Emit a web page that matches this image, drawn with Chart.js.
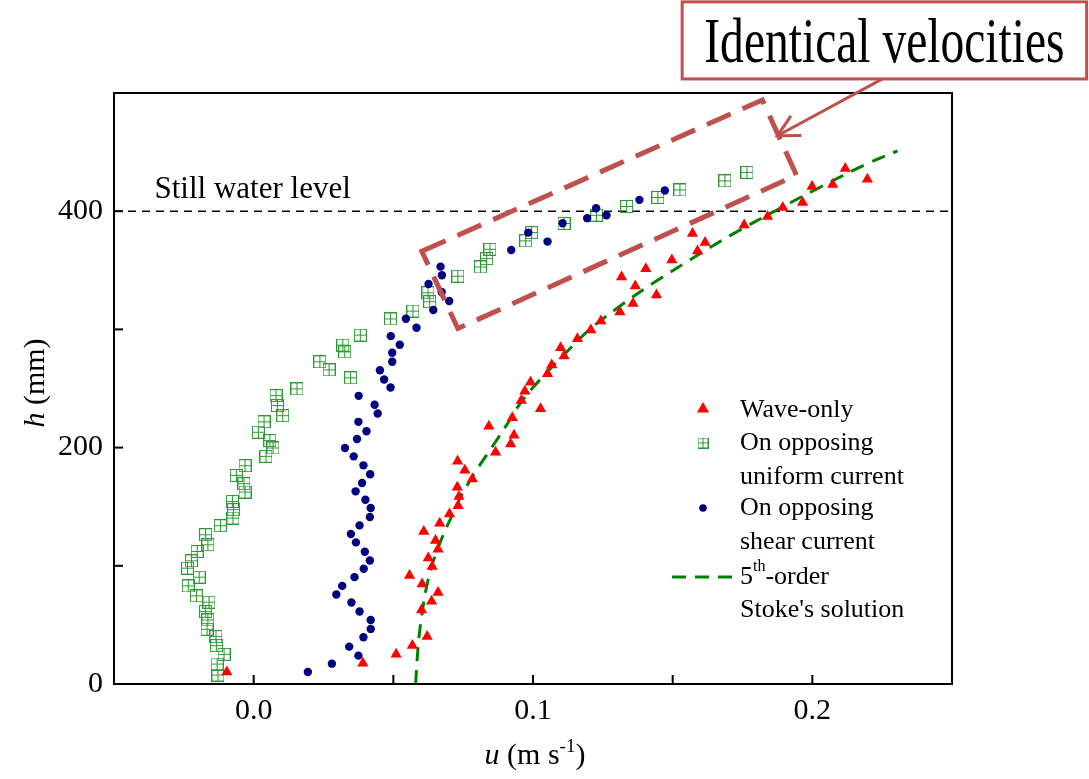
<!DOCTYPE html>
<html><head><meta charset="utf-8">
<script src="https://cdn.jsdelivr.net/npm/chart.js@4/dist/chart.umd.min.js"></script>
<style>html,body{margin:0;padding:0;background:#fff}</style>
</head><body>
<canvas id="c" width="1089" height="779"></canvas>
<script>
// ---- Data (u in m/s, h in mm) ----
const waveH = [10.2,17.5,25.1,32.5,40.1,62.7,70,77.4,84.7,91.8,99.4,106.5,114.1,121.4,129,136.1,143.8,150.8,158.7,166.4,173.5,180.8,188.4,196,203.1,210.4,218,225.2,232.8,239.8,247.7,255.3,262.5,269.8,277.4,284.5,292.1,299.4,307.1,314.7,322,329.1,336.7,344.3,351.4,358.7,366.4,373.5,381.1,388.4,395.5,403.1,407.3,420.9,422.6,436.2,427];
const waveU = [-0.0096,0.0391,0.051,0.0568,0.0621,0.0601,0.0637,0.066,0.0603,0.0558,0.0639,0.0625,0.066,0.0651,0.0609,0.0666,0.0701,0.0732,0.0735,0.0729,0.0783,0.0756,0.073,0.0866,0.092,0.0932,0.0842,0.0926,0.1027,0.0958,0.0971,0.0991,0.1052,0.1067,0.1111,0.1099,0.1159,0.1207,0.1243,0.1311,0.1358,0.1442,0.1366,0.1317,0.1404,0.1497,0.1589,0.1616,0.1571,0.1756,0.184,0.1894,0.1965,0.1999,0.2073,0.2118,0.2197];

const uniformH = [7.6,16.9,25.1,32.5,40.1,46.3,54.2,61.3,69.2,74.6,83,90.4,98,104.2,112.1,117.8,126.3,133.9,140.4,147.5,154.5,162.4,169.5,176.5,184.7,192.6,199.7,206,213,221.8,227,235.6,244,249.7,259,265.8,272.6,281,286.7,295.2,308.9,315.5,323.4,331,345,352.8,359.9,367.8,374.9,381.9,389.6,396.6,404,411.6,418,425.7,432.8];
const uniformU = [-0.0128,-0.0131,-0.0106,-0.0133,-0.0135,-0.0167,-0.0164,-0.0172,-0.016,-0.0205,-0.0234,-0.0195,-0.0237,-0.0223,-0.0202,-0.0164,-0.0172,-0.0119,-0.0074,-0.0072,-0.0076,-0.0031,-0.0035,-0.0062,-0.0031,0.0044,0.0069,0.0058,0.0017,0.0037,0.0104,0.0085,0.008,0.0155,0.0347,0.027,0.0237,0.0326,0.0319,0.0382,0.049,0.057,0.063,0.0624,0.0731,0.0812,0.0834,0.0846,0.0974,0.0995,0.1111,0.1227,0.1335,0.1447,0.1526,0.1687,0.1766];

const shearH = [10.2,17.2,24,31.6,39.5,46.6,54.2,61.3,68.9,75.7,83,90.4,97.5,104.5,111.9,119.8,126.9,134.2,141.3,148.9,155.9,163,170.1,177.4,185,192.6,199.7,207.3,213.8,221.8,228.8,236.2,243.8,250.8,257.6,265.5,272.6,280.2,287,294.3,301.4,309,316.4,324,331.6,338.4,345.8,353.1,367.2,374.3,381.9,389.8,394.1,396.6,402.5,409.6,417.5];
const shearU = [0.0194,0.028,0.0375,0.0342,0.0393,0.0419,0.0419,0.0379,0.035,0.0296,0.0317,0.0361,0.0394,0.0416,0.0398,0.0366,0.0348,0.0379,0.0416,0.0419,0.04,0.0365,0.0388,0.0417,0.0393,0.0358,0.0327,0.037,0.0404,0.0375,0.0444,0.0433,0.0376,0.049,0.0467,0.0452,0.0496,0.0496,0.0523,0.0491,0.0583,0.0545,0.0643,0.07,0.0673,0.0626,0.0674,0.0669,0.0922,0.1052,0.0983,0.1106,0.1194,0.1263,0.1226,0.1381,0.1472];

const stokesH = [0,20,40,60,80,100,120,140,160,180,200,220,240,260,280,300,320,340,360,380,400,420,440,451];
const stokesU = [0.058,0.0585,0.0592,0.0603,0.0617,0.0638,0.0668,0.0705,0.0745,0.0795,0.0852,0.0908,0.0962,0.1035,0.1117,0.1203,0.1313,0.1436,0.157,0.171,0.1865,0.2025,0.2195,0.2305];

const xTickValues = [-0.05,0,0.05,0.1,0.15,0.2,0.25];
const xTickLabels = ['', '0.0', '', '0.1', '', '0.2', ''];
const yTickValues = [0,100,200,300,400,500];
const yTickLabels = ['0','','200','','400',''];

const legendLabels = [['Wave-only'],['On opposing','uniform current'],['On opposing','shear current'],['5|th|-order',"Stoke's solution"]];
const stillWaterLevel = 400;
const calloutText = 'Identical velocities';

// annotation geometry in data units
const boxCorners = [[0.0602,366.1],[0.1821,494.1],[0.1943,430.5],[0.0731,300.8]];
const calloutRect = [0.1534,577.1,0.2982,511.9];
const arrowFrom = [0.2251,511.9], arrowTo = [0.1875,463.8];

const SERIF = '"Liberation Serif","DejaVu Serif",serif';
const RED = '#ff0000', GREEN_PT = '#2f9a35', NAVY = '#000080', GREEN_LINE = '#008000', ANNO = '#c0504d';

function zip(us, hs){ return us.map((u,i)=>({x:u,y:hs[i]})); }

function makeSquare(size, color){
  const c=document.createElement('canvas'); c.width=size; c.height=size;
  const g=c.getContext('2d'); g.strokeStyle=color; g.lineWidth=1.1;
  g.strokeRect(0.5,0.5,size-1,size-1);
  g.beginPath(); g.moveTo(size/2,1); g.lineTo(size/2,size-1); g.moveTo(1,size/2); g.lineTo(size-1,size/2); g.stroke();
  return c;
}
const sqImg = makeSquare(13, GREEN_PT);
const sqSmall = makeSquare(11, GREEN_PT);

const deco = {
  id:'deco',
  beforeDatasetsDraw(chart){
    const {ctx, chartArea:a, scales:{x,y}} = chart;
    ctx.save();
    ctx.strokeStyle='#000'; ctx.lineWidth=1.5; ctx.setLineDash([8,6]);
    const yy = y.getPixelForValue(stillWaterLevel);
    ctx.beginPath(); ctx.moveTo(a.left, yy); ctx.lineTo(a.right, yy); ctx.stroke();
    ctx.setLineDash([]);
    ctx.fillStyle='#000'; ctx.font='31px '+SERIF; ctx.textBaseline='alphabetic';
    ctx.fillText('Still water level', x.getPixelForValue(-0.0355), yy-13);
    ctx.restore();
  },
  afterDatasetsDraw(chart){
    const {ctx, chartArea:a, scales:{x,y}} = chart;
    const P = (p)=>[x.getPixelForValue(p[0]), y.getPixelForValue(p[1])];
    ctx.save();
    // frame
    ctx.strokeStyle='#000'; ctx.lineWidth=2; ctx.setLineDash([]);
    ctx.strokeRect(a.left, a.top, a.right-a.left, a.bottom-a.top);
    // inward ticks
    xTickValues.forEach(v=>{ const px=x.getPixelForValue(v); ctx.beginPath(); ctx.moveTo(px,a.bottom); ctx.lineTo(px,a.bottom-9); ctx.stroke(); });
    yTickValues.forEach(v=>{ const py=y.getPixelForValue(v); ctx.beginPath(); ctx.moveTo(a.left,py); ctx.lineTo(a.left+9,py); ctx.stroke(); });

    // dashed annotation box
    ctx.strokeStyle=ANNO; ctx.lineWidth=5; ctx.setLineDash([26,13]); ctx.lineCap='butt';
    ctx.beginPath();
    boxCorners.forEach((c,i)=>{ const [px,py]=P(c); if(i===0) ctx.moveTo(px,py); else ctx.lineTo(px,py); });
    ctx.closePath(); ctx.stroke();
    ctx.setLineDash([]);

    // callout
    const [l,t] = P([calloutRect[0],calloutRect[1]]);
    const [r,b] = P([calloutRect[2],calloutRect[3]]);
    ctx.fillStyle='#fff'; ctx.fillRect(l,t,r-l,b-t);
    ctx.lineWidth=3; ctx.strokeStyle=ANNO; ctx.strokeRect(l,t,r-l,b-t);
    ctx.save();
    ctx.fillStyle='#000'; ctx.font='48px '+SERIF; ctx.textAlign='center'; ctx.textBaseline='alphabetic';
    ctx.translate((l+r)/2, t+60); ctx.scale(0.99,1.3);
    ctx.fillText(calloutText, 0, 0);
    ctx.restore();
    // arrow
    const [ax,ay]=P(arrowFrom), [tx,ty]=P(arrowTo);
    ctx.strokeStyle=ANNO; ctx.lineWidth=3;
    ctx.beginPath(); ctx.moveTo(ax,ay); ctx.lineTo(tx,ty); ctx.stroke();
    const ang = Math.atan2(ay-ty, ax-tx);
    ctx.beginPath();
    ctx.moveTo(tx+24*Math.cos(ang+0.48), ty+24*Math.sin(ang+0.48));
    ctx.lineTo(tx,ty);
    ctx.lineTo(tx+24*Math.cos(ang-0.48), ty+24*Math.sin(ang-0.48));
    ctx.stroke();

    // axis titles
    ctx.fillStyle='#000'; ctx.textBaseline='alphabetic';
    const f='30px '+SERIF, fi='italic 30px '+SERIF, fs='19px '+SERIF;
    ctx.font=fi; const wU=ctx.measureText('u').width;
    ctx.font=f; const w1=ctx.measureText(' (m s').width;
    ctx.font=fs; const wS=ctx.measureText('-1').width;
    ctx.font=f; const w2=ctx.measureText(')').width;
    let xt = 535 - (wU+w1+wS+w2)/2, yt=764;
    ctx.font=fi; ctx.fillText('u',xt,yt); xt+=wU;
    ctx.font=f; ctx.fillText(' (m s',xt,yt); xt+=w1;
    ctx.font=fs; ctx.fillText('-1',xt,yt-12); xt+=wS;
    ctx.font=f; ctx.fillText(')',xt,yt);
    ctx.save(); ctx.translate(44, 383); ctx.rotate(-Math.PI/2);
    ctx.font=fi; const wh=ctx.measureText('h').width;
    ctx.font=f; const wm=ctx.measureText(' (mm)').width;
    let s=-(wh+wm)/2;
    ctx.font=fi; ctx.fillText('h',s,0);
    ctx.font=f; ctx.fillText(' (mm)',s+wh,0);
    ctx.restore();

    // legend
    const lx=703, tx0=740;
    const rows=[410,443,477,508,542,577,610];
    ctx.fillStyle=RED; ctx.strokeStyle=RED;
    Chart.helpers.drawPoint(ctx,{pointStyle:'triangle',radius:4,borderWidth:0.5},lx,rows[0]-1);
    ctx.drawImage(sqSmall, lx-5.5, rows[1]-5.5);
    ctx.fillStyle=NAVY; ctx.beginPath(); ctx.arc(lx, rows[3], 3.8, 0, Math.PI*2); ctx.fill();
    ctx.strokeStyle=GREEN_LINE; ctx.lineWidth=3; ctx.setLineDash([14,9]);
    ctx.beginPath(); ctx.moveTo(672,rows[5]); ctx.lineTo(734,rows[5]); ctx.stroke(); ctx.setLineDash([]);
    ctx.font='26px '+SERIF; ctx.textBaseline='middle'; ctx.fillStyle='#000';
    ctx.fillText(legendLabels[0][0], tx0, rows[0]);
    ctx.fillText(legendLabels[1][0], tx0, rows[1]);
    ctx.fillText(legendLabels[1][1], tx0, rows[2]);
    ctx.fillText(legendLabels[2][0], tx0, rows[3]);
    ctx.fillText(legendLabels[2][1], tx0, rows[4]);
    const parts = legendLabels[3][0].split('|');
    let xx=tx0; ctx.fillText(parts[0],xx,rows[5]); xx+=ctx.measureText(parts[0]).width;
    ctx.font='16px '+SERIF; ctx.fillText(parts[1],xx,rows[5]-10); xx+=ctx.measureText(parts[1]).width;
    ctx.font='26px '+SERIF; ctx.fillText(parts[2],xx,rows[5]);
    ctx.fillText(legendLabels[3][1], tx0, rows[6]);
    ctx.restore();
  }
};

const chart = new Chart(document.getElementById('c'), {
  type:'scatter',
  data:{datasets:[
    {type:'line', label:'Stokes', data:zip(stokesU,stokesH), borderColor:GREEN_LINE, borderWidth:3, borderDash:[14,9], pointRadius:0, fill:false, tension:0.35, order:4},
    {label:'Wave-only', data:zip(waveU,waveH), pointStyle:'triangle', pointRadius:6.5, backgroundColor:RED, borderColor:RED, borderWidth:0, order:1},
    {label:'On opposing uniform current', data:zip(uniformU,uniformH), pointStyle:sqImg, pointRadius:6, backgroundColor:GREEN_PT, borderColor:GREEN_PT, order:3},
    {label:'On opposing shear current', data:zip(shearU,shearH), pointStyle:'circle', pointRadius:4.2, backgroundColor:NAVY, borderColor:NAVY, borderWidth:0, order:2}
  ]},
  options:{
    responsive:false, animation:false, devicePixelRatio:1,
    layout:{padding:{left:0,right:137,top:93,bottom:0}},
    plugins:{legend:{display:false}, tooltip:{enabled:false}},
    scales:{
      x:{type:'linear', min:-0.05, max:0.25,
         afterBuildTicks:(s)=>{ s.ticks = xTickValues.map(v=>({value:v})); },
         afterFit:(s)=>{ s.height=95; },
         grid:{display:false, drawTicks:false}, border:{display:false},
         ticks:{padding:9, color:'#000', font:{family:'"Liberation Serif",serif', size:30}, maxRotation:0, autoSkip:false,
           callback:(v,i)=>xTickLabels[i]}},
      y:{type:'linear', min:0, max:500,
         afterBuildTicks:(s)=>{ s.ticks = yTickValues.map(v=>({value:v})); },
         afterFit:(s)=>{ s.width=114; },
         grid:{display:false, drawTicks:false}, border:{display:false},
         ticks:{padding:11, color:'#000', font:{family:'"Liberation Serif",serif', size:30}, autoSkip:false,
           callback:(v,i)=>yTickLabels[i]}}
    }
  },
  plugins:[deco]
});
</script>
</body></html>
